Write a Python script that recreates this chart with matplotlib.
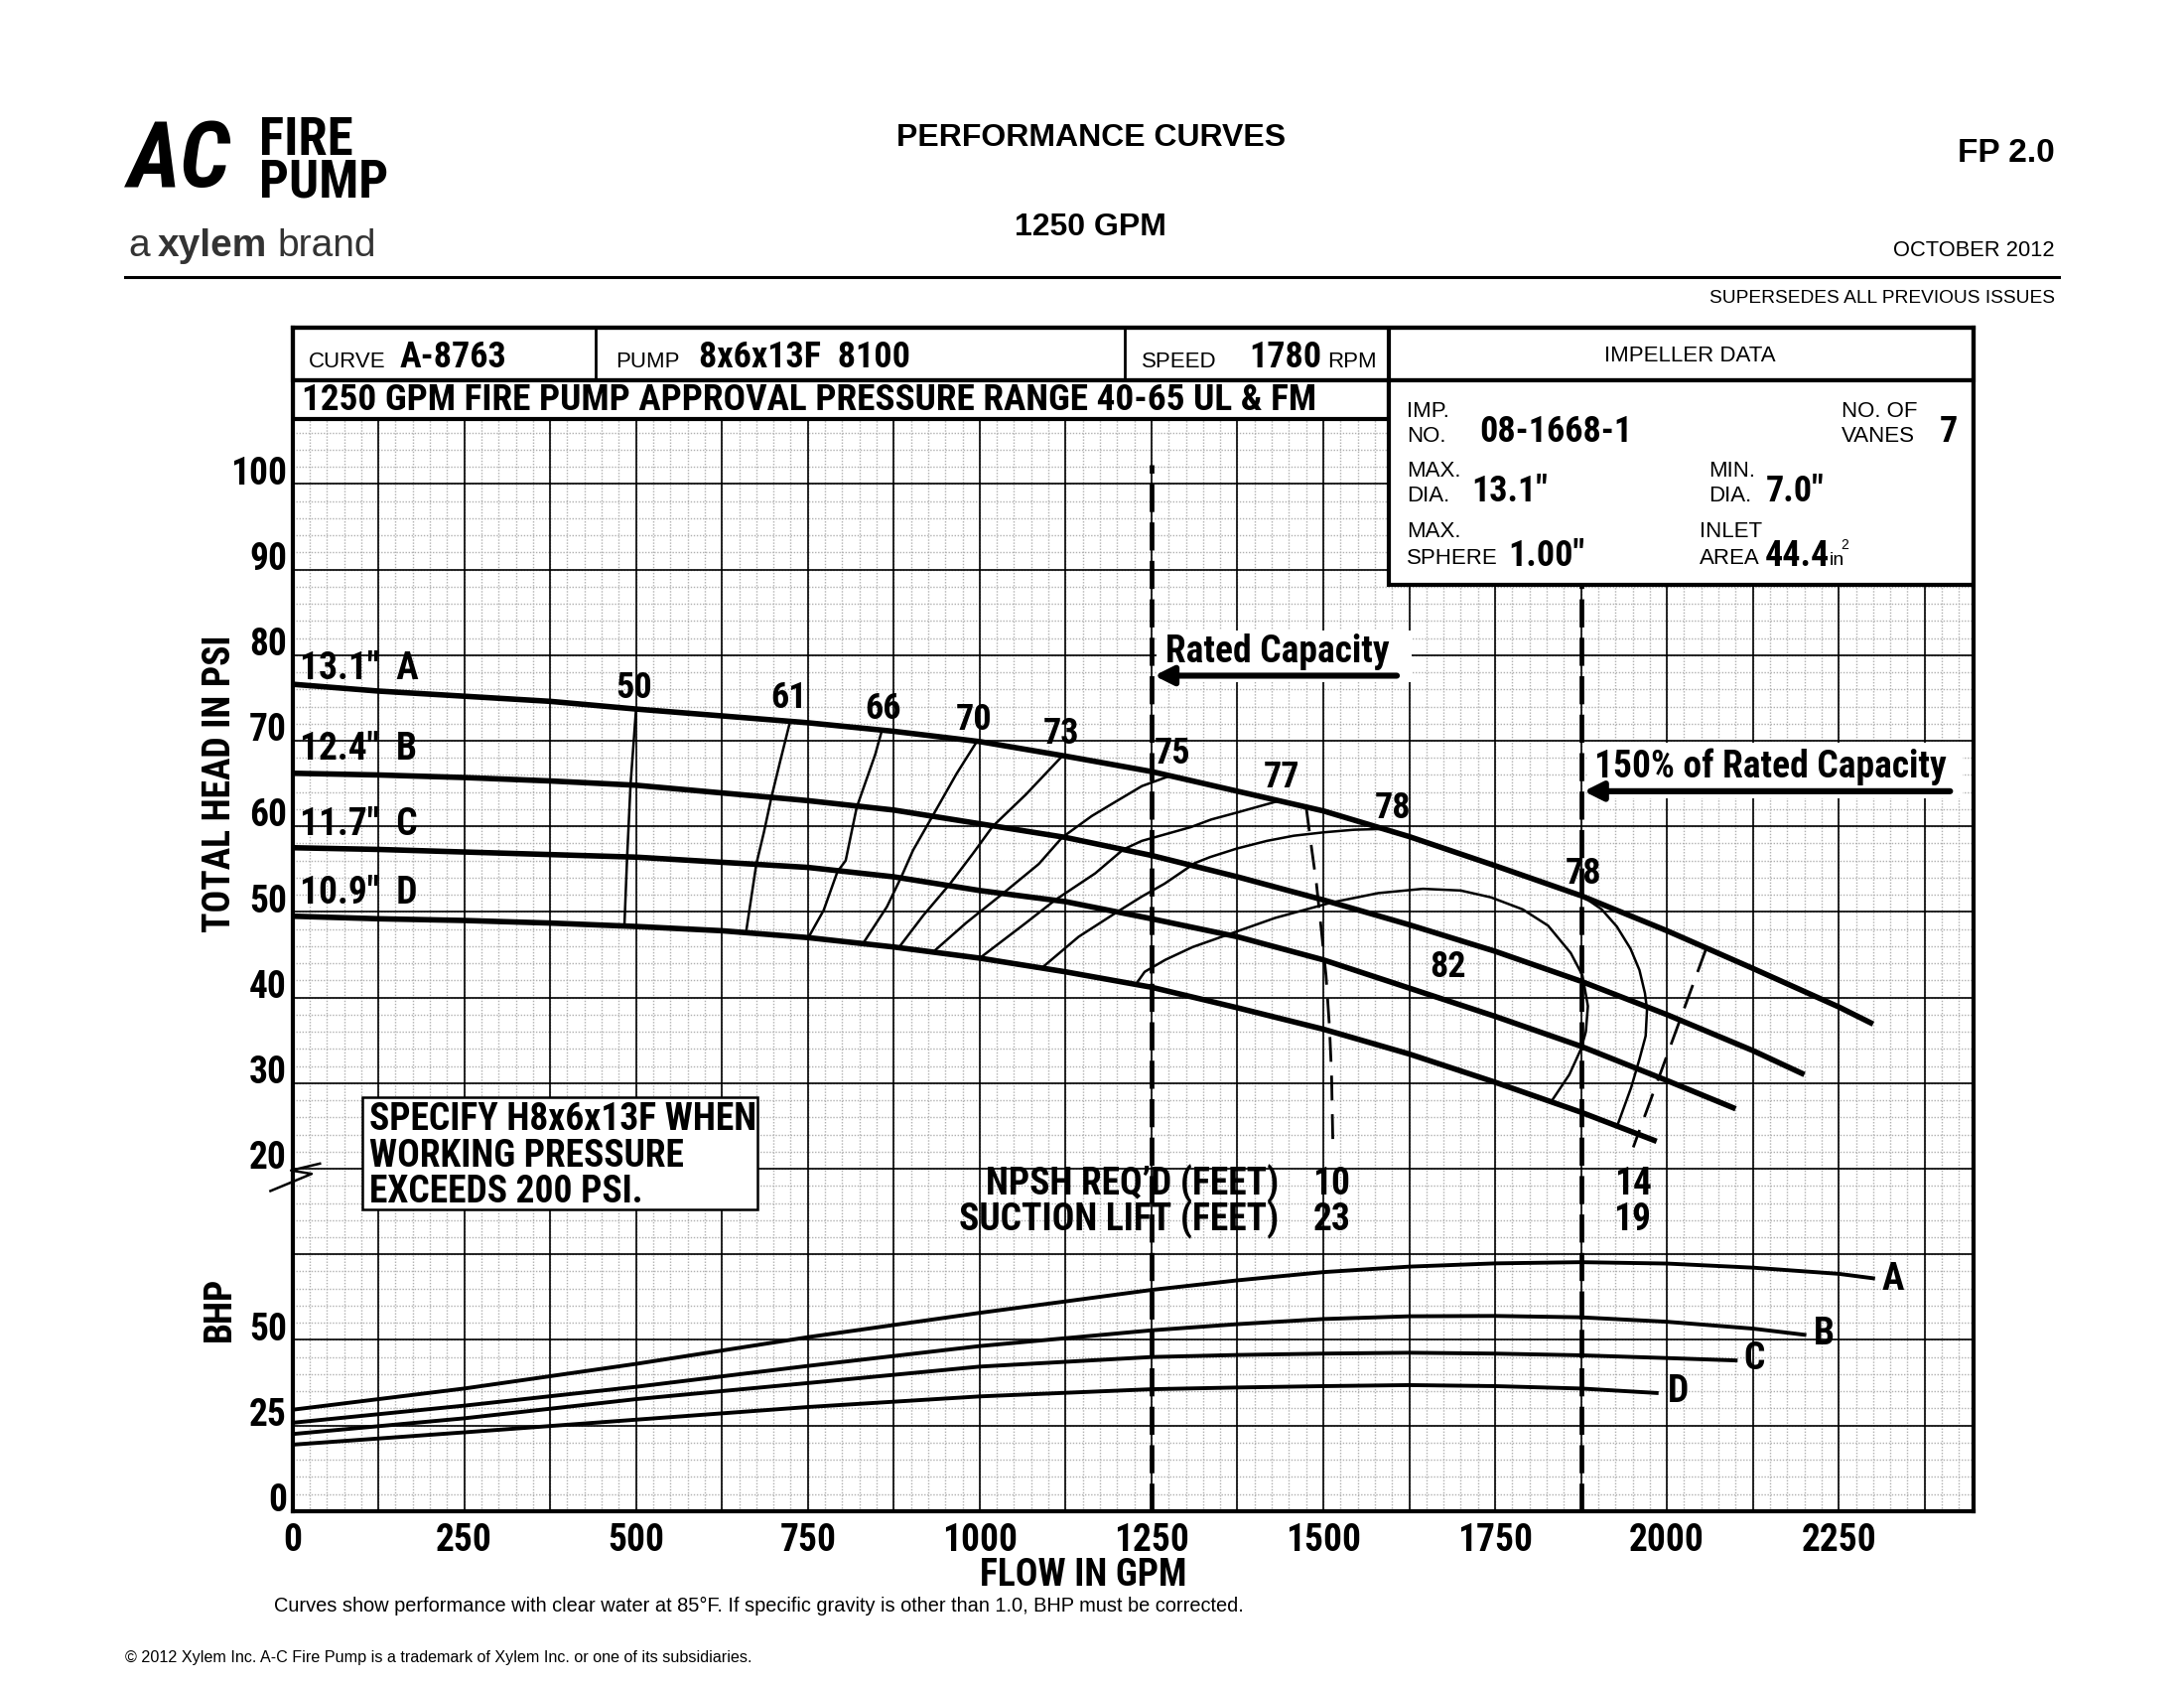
import numpy as np
import matplotlib
matplotlib.use("Agg")
import matplotlib.pyplot as plt
from matplotlib.patches import Rectangle

NARROW = ['Roboto Condensed', 'Archivo Narrow', 'PT Sans Narrow', 'Liberation Sans Narrow', 'Liberation Sans', 'DejaVu Sans']
PLAIN = ['Liberation Sans', 'DejaVu Sans']

# ---- head curves (psi) vs flow (gpm), one per impeller diameter
flow_a = [0, 125, 250, 375, 500, 625, 750, 875, 1000, 1125, 1250, 1375, 1500, 1625, 1750, 1875, 2000, 2125, 2250, 2300]
head_a = [76.6, 75.8, 75.2, 74.6, 73.7, 72.9, 72.1, 71.1, 69.9, 68.2, 66.4, 64.1, 61.8, 58.8, 55.4, 51.9, 47.8, 43.4, 38.9, 36.9]
flow_b = [0, 125, 250, 375, 500, 625, 750, 875, 1000, 1125, 1250, 1375, 1500, 1625, 1750, 1875, 2000, 2125, 2200]
head_b = [66.2, 66.0, 65.7, 65.3, 64.8, 63.9, 63.0, 61.9, 60.3, 58.7, 56.6, 54.1, 51.4, 48.5, 45.4, 41.9, 38.0, 33.8, 31.0]
flow_c = [0, 125, 250, 375, 500, 625, 750, 875, 1000, 1125, 1250, 1375, 1500, 1625, 1750, 1875, 2000, 2100]
head_c = [57.5, 57.3, 57.0, 56.7, 56.4, 55.8, 55.2, 54.1, 52.5, 51.2, 49.2, 47.1, 44.4, 41.1, 37.8, 34.3, 30.3, 27.0]
flow_d = [0, 125, 250, 375, 500, 625, 750, 875, 1000, 1125, 1250, 1375, 1500, 1625, 1750, 1875, 1985]
head_d = [49.5, 49.2, 49.0, 48.7, 48.3, 47.8, 47.0, 45.9, 44.6, 43.0, 41.2, 38.8, 36.3, 33.4, 30.1, 26.6, 23.2]
dia_labels = ['13.1"  A', '12.4"  B', '11.7"  C', '10.9"  D']
dia_label_head = [78.4, 69.0, 60.2, 52.2]

# ---- efficiency contours (flow, head)
eff_flow = {
    '50': [500, 496, 492, 487, 483],
    '61': [724, 710, 697, 686, 675, 660],
    '66': [857, 848, 821, 805, 793, 773, 750],
    '70': [995, 966, 930, 903, 886, 865, 831],
    '73': [1120, 1067, 1019, 990, 956, 918, 882],
    '75': [1277, 1236, 1192, 1163, 1120, 1086, 1033, 980, 932],
    '77': [1432, 1374, 1337, 1307, 1236, 1209, 1168, 1110, 1067, 1000],
    '78': [1589, 1545, 1501, 1457, 1418, 1374, 1335, 1313, 1269, 1236, 1202, 1144, 1091],
    '82': [1226, 1240, 1270, 1310, 1363, 1430, 1512, 1580, 1645, 1700, 1744, 1790, 1827,
           1860, 1877, 1885, 1882, 1875, 1858, 1833],
    '78r': [1876, 1905, 1927, 1947, 1960, 1968, 1971, 1969, 1960, 1948, 1929],
}
eff_head = {
    '50': [73.7, 69.3, 64.9, 56.4, 48.3],
    '61': [72.2, 67.7, 63.4, 59.3, 55.6, 47.6],
    '66': [71.0, 68.4, 62.2, 56.0, 54.7, 50.2, 46.9],
    '70': [69.8, 66.1, 61.0, 57.2, 54.1, 50.6, 46.4],
    '73': [68.2, 63.7, 60.0, 56.8, 53.2, 49.6, 45.8],
    '75': [65.9, 64.7, 62.6, 61.2, 58.7, 55.6, 52.1, 48.7, 45.3],
    '77': [62.9, 61.6, 60.8, 59.9, 58.3, 57.3, 54.5, 51.4, 48.7, 44.6],
    '78': [59.7, 59.6, 59.3, 58.9, 58.3, 57.4, 56.4, 55.7, 53.3, 51.8, 50.1, 47.1, 43.5],
    '82': [41.4, 43.0, 44.4, 45.9, 47.4, 49.3, 51.1, 52.2, 52.7, 52.5, 51.7, 50.3, 48.4,
           45.2, 42.6, 39.0, 36.0, 34.0, 31.0, 28.0],
    '78r': [51.9, 50.3, 48.3, 45.7, 43.2, 40.5, 38.6, 35.5, 32.8, 29.5, 25.3],
}
eff_label_text = ['50', '61', '66', '70', '73', '75', '77', '78', '78', '82']
eff_label_flow = [497, 722, 859, 991, 1119, 1281, 1439, 1601, 1879, 1682]
eff_label_head = [76.1, 75.0, 73.7, 72.4, 70.8, 68.5, 65.7, 62.1, 54.5, 43.6]

# ---- NPSH lines
npsh1_flow = [1475, 1482, 1490, 1497, 1504, 1509, 1512, 1514]
npsh1_head = [62.3, 58.0, 53.3, 48.0, 42.5, 36.5, 31.0, 22.5]
npsh2_flow = [2057, 1951]
npsh2_head = [45.7, 22.5]

# ---- brake horsepower curves
bhp_flow_a = [0, 250, 500, 750, 1000, 1250, 1375, 1500, 1625, 1750, 1875, 2000, 2125, 2250, 2300]
bhp_a = [29.6, 35.8, 43.0, 50.8, 57.9, 64.6, 67.4, 69.8, 71.4, 72.35, 72.7, 72.3, 71.1, 69.3, 68.0]
bhp_flow_b = [0, 250, 500, 750, 1000, 1250, 1375, 1500, 1625, 1750, 1875, 2000, 2125, 2200]
bhp_b = [25.8, 30.8, 36.3, 42.4, 48.2, 52.8, 54.6, 56.1, 56.9, 57.0, 56.6, 55.3, 53.3, 51.5]
bhp_flow_c = [0, 250, 500, 750, 1000, 1250, 1375, 1500, 1625, 1750, 1875, 2000, 2100]
bhp_c = [22.5, 27.1, 32.7, 37.4, 42.2, 45.0, 45.6, 46.0, 46.25, 46.0, 45.5, 44.7, 44.0]
bhp_flow_d = [0, 250, 500, 750, 1000, 1250, 1375, 1500, 1625, 1750, 1875, 1985]
bhp_d = [19.4, 23.0, 26.7, 30.4, 33.5, 35.6, 36.1, 36.5, 36.8, 36.5, 35.8, 34.5]
bhp_letters = ['A', 'B', 'C', 'D']
bhp_letter_flow = [2329, 2228, 2127, 2016]
bhp_letter_val = [67.7, 51.8, 44.5, 34.8]

flow_ticks = [0, 250, 500, 750, 1000, 1250, 1500, 1750, 2000, 2250]
head_ticks = [100, 90, 80, 70, 60, 50, 40, 30, 20]
bhp_ticks = [50, 25, 0]

RATED = 1250
RATED_150 = 1875
X_MAX = 2446
U_MIN, U_MAX = -20, 118.2
GRID_TOP = 107.6


def bhp_u(v):
    # BHP band sits under the head band: 25 BHP per 10 psi grid step, 0 BHP at -20
    return np.asarray(v, dtype=float) * 0.4 - 20


def fpos(x, y):
    # page position from reference pixel layout (1568 x 1212 frame)
    return x / 1568, 1 - y / 1212


fig = plt.figure(figsize=(11, 8.5), dpi=200)
ax = fig.add_axes([0.1339, 0.1048, 0.7697, 0.7008])
ax.set_xlim(0, X_MAX)
ax.set_ylim(U_MIN, U_MAX)

# grid
ax.vlines(np.arange(25, X_MAX, 25), U_MIN, GRID_TOP, colors='#b0b0b0', lw=0.5,
          linestyles=(0, (1, 1.2)), zorder=1)
ax.hlines(np.arange(-18, GRID_TOP, 2), 0, X_MAX, colors='#b0b0b0', lw=0.5,
          linestyles=(0, (1, 1.2)), zorder=1)
ax.vlines(np.arange(125, X_MAX, 125), U_MIN, GRID_TOP, colors='black', lw=0.6, zorder=2)
ax.hlines(np.arange(-10, GRID_TOP, 10), 0, X_MAX, colors='black', lw=0.6, zorder=2)

for sp in ax.spines.values():
    sp.set_linewidth(1.5)
    sp.set_zorder(8)
ax.set_xticks(flow_ticks)
ax.set_xticklabels([str(t) for t in flow_ticks], family=NARROW, fontweight='bold', fontsize=13.5)
ax.tick_params(axis='x', length=0, pad=4)
ax.set_yticks([])

for t in head_ticks:
    ax.text(-8, t + 1.2, str(t), ha='right', va='center', family=NARROW, fontweight='bold', fontsize=13.5)
for t in bhp_ticks:
    ax.text(-8, bhp_u(t) + 1.2, str(t), ha='right', va='center', family=NARROW, fontweight='bold', fontsize=13.5)

# break mark on the left edge
ax.plot([-32, 28, -2, 40], [17.4, 19.4, 19.8, 20.6], color='black', lw=0.9, clip_on=False, zorder=9)

# rated and 150% rated capacity lines
dash = (0, (6, 2.2))
ax.plot([RATED, RATED], [U_MIN, 102.2], color='black', lw=1.7, ls=dash, zorder=4)
ax.plot([RATED_150, RATED_150], [U_MIN, 88.2], color='black', lw=1.7, ls=dash, zorder=4)

ax.add_patch(Rectangle((1258, 76.9), 370, 6.0, fc='white', ec='none', zorder=3))
ax.text(1271, 80.4, 'Rated Capacity', ha='left', va='center', family=NARROW, fontweight='bold',
        fontsize=13.5, zorder=6)
ax.annotate('', xy=(RATED + 4, 77.6), xytext=(1607, 77.6),
            arrowprops=dict(arrowstyle='-|>', lw=2.2, color='black', mutation_scale=14,
                            shrinkA=0, shrinkB=0), zorder=6)
ax.add_patch(Rectangle((1885, 63.3), 545, 6.5, fc='white', ec='none', zorder=3))
ax.text(1895, 66.9, '150% of Rated Capacity', ha='left', va='center', family=NARROW,
        fontweight='bold', fontsize=13.5, zorder=6)
ax.annotate('', xy=(RATED_150 + 4, 64.1), xytext=(2412, 64.1),
            arrowprops=dict(arrowstyle='-|>', lw=2.2, color='black', mutation_scale=14,
                            shrinkA=0, shrinkB=0), zorder=6)

# head curves
for fl, hd in [(flow_a, head_a), (flow_b, head_b), (flow_c, head_c), (flow_d, head_d)]:
    ax.plot(fl, hd, color='black', lw=2.0, solid_capstyle='butt', solid_joinstyle='round', zorder=5)
for lab, h in zip(dia_labels, dia_label_head):
    ax.text(10, h, lab, ha='left', va='center', family=NARROW, fontweight='bold', fontsize=13.5, zorder=6)

# efficiency contours
for key in eff_flow:
    ax.plot(eff_flow[key], eff_head[key], color='black', lw=0.9, solid_joinstyle='round', zorder=5)
for lab, fl, h in zip(eff_label_text, eff_label_flow, eff_label_head):
    ax.text(fl, h, lab, ha='center', va='center', family=NARROW, fontweight='bold', fontsize=13, zorder=6)

# npsh
ax.plot(npsh1_flow, npsh1_head, color='black', lw=1.0, ls=(0, (9, 5)), zorder=5)
ax.plot(npsh2_flow, npsh2_head, color='black', lw=1.0, ls=(0, (9, 5)), zorder=5)
ax.text(1435, 18.2, 'NPSH REQ\u2019D (FEET)', ha='right', va='center', family=NARROW,
        fontweight='bold', fontsize=13.5, zorder=6)
ax.text(1435, 14.0, 'SUCTION LIFT (FEET)', ha='right', va='center', family=NARROW,
        fontweight='bold', fontsize=13.5, zorder=6)
for fl, top, bot in [(1512, '10', '23'), (1950, '14', '19')]:
    ax.text(fl, 18.2, top, ha='center', va='center', family=NARROW, fontweight='bold', fontsize=13.5, zorder=6)
    ax.text(fl, 14.0, bot, ha='center', va='center', family=NARROW, fontweight='bold', fontsize=13.5, zorder=6)

# bhp curves
for fl, bv in [(bhp_flow_a, bhp_a), (bhp_flow_b, bhp_b), (bhp_flow_c, bhp_c), (bhp_flow_d, bhp_d)]:
    ax.plot(fl, bhp_u(bv), color='black', lw=1.4, solid_joinstyle='round', zorder=5)
for lab, fl, bv in zip(bhp_letters, bhp_letter_flow, bhp_letter_val):
    ax.text(fl, bhp_u(bv), lab, ha='center', va='center', family=NARROW, fontweight='bold', fontsize=13.5, zorder=6)

# specify box
ax.add_patch(Rectangle((101, 15.3), 575, 13.0, fc='white', ec='black', lw=0.9, zorder=6))
for h, line in zip([25.7, 21.5, 17.3], ['SPECIFY H8x6x13F WHEN', 'WORKING PRESSURE', 'EXCEEDS 200 PSI.']):
    ax.text(112, h, line, ha='left', va='center', family=NARROW, fontweight='bold', fontsize=13.5, zorder=7)

# header table inside the frame
ax.add_patch(Rectangle((0, 112.1), X_MAX, U_MAX - 112.1, fc='white', ec='black', lw=1.5, zorder=7, clip_on=False))
ax.add_patch(Rectangle((0, GRID_TOP), 1595.5, 112.1 - GRID_TOP, fc='white', ec='black', lw=1.5, zorder=7))
ax.add_patch(Rectangle((1595.5, 88.2), X_MAX - 1595.5, 112.1 - 88.2, fc='white', ec='black', lw=1.5, zorder=7))
ax.vlines([441.8, 1210.9], 112.1, U_MAX, colors='black', lw=1.0, zorder=8)
ax.vlines([1595.5], 112.1, U_MAX, colors='black', lw=1.5, zorder=8)

small = dict(family=PLAIN, fontsize=8, zorder=9, va='center', ha='left')
big = dict(family=NARROW, fontweight='bold', fontsize=13, zorder=9, va='center', ha='left')
ax.text(24, 114.3, 'CURVE', **small)
ax.text(156, 114.8, 'A-8763', **big)
ax.text(470, 114.3, 'PUMP', **small)
ax.text(592, 114.8, '8x6x13F  8100', **big)
ax.text(1236, 114.3, 'SPEED', **small)
ax.text(1392, 114.8, '1780', **big)
ax.text(1506, 114.3, 'RPM', **small)
ax.text(2033, 114.9, 'IMPELLER DATA', family=PLAIN, fontsize=8, zorder=9, va='center', ha='center')
ax.text(14, 109.8, '1250 GPM FIRE PUMP APPROVAL PRESSURE RANGE 40-65 UL & FM', family=NARROW,
        fontweight='bold', fontsize=13.4, zorder=9, va='center', ha='left')

ax.text(1621, 108.5, 'IMP.', **small)
ax.text(1621, 105.6, 'NO.', **small)
ax.text(1727, 106.1, '08-1668-1', **big)
ax.text(2254, 108.5, 'NO. OF', **small)
ax.text(2254, 105.6, 'VANES', **small)
ax.text(2396, 106.1, '7', **big)
ax.text(1621, 101.5, 'MAX.', **small)
ax.text(1621, 98.6, 'DIA.', **small)
ax.text(1715, 99.1, '13.1"', **big)
ax.text(2061, 101.5, 'MIN.', **small)
ax.text(2061, 98.6, 'DIA.', **small)
ax.text(2144, 99.1, '7.0"', **big)
ax.text(1621, 94.4, 'MAX.', **small)
ax.text(1621, 91.3, 'SPHERE', **small)
ax.text(1769, 91.6, '1.00"', **big)
ax.text(2047, 94.4, 'INLET', **small)
ax.text(2047, 91.3, 'AREA', **small)
ax.text(2142, 91.6, '44.4', **big)
ax.text(2236, 91.1, 'in', family=PLAIN, fontsize=7, zorder=9, va='center', ha='left')
ax.text(2253, 92.8, '2', family=PLAIN, fontsize=5, zorder=9, va='center', ha='left')

# axis titles
fig.text(*fpos(158, 563), 'TOTAL HEAD IN PSI', rotation=90, ha='center', va='center',
         family=NARROW, fontweight='bold', fontsize=13.5)
fig.text(*fpos(158, 940), 'BHP', rotation=90, ha='center', va='center',
         family=NARROW, fontweight='bold', fontsize=13.5)
fig.text(*fpos(778, 1131), 'FLOW IN GPM', ha='center', va='center',
         family=NARROW, fontweight='bold', fontsize=13.5)

# page header
fig.text(*fpos(783, 99), 'PERFORMANCE CURVES', ha='center', va='center', family=PLAIN,
         fontweight='bold', fontsize=11.5)
fig.text(*fpos(783, 163), '1250 GPM', ha='center', va='center', family=PLAIN,
         fontweight='bold', fontsize=11.5)
fig.text(*fpos(1475, 110), 'FP 2.0', ha='right', va='center', family=PLAIN,
         fontweight='bold', fontsize=12)
fig.text(*fpos(1475, 180), 'OCTOBER 2012', ha='right', va='center', family=PLAIN, fontsize=7.9)
fig.text(*fpos(1475, 214), 'SUPERSEDES ALL PREVIOUS ISSUES', ha='right', va='center',
         family=PLAIN, fontsize=6.9)
x0, y0 = fpos(90, 199)
x1, _ = fpos(1478, 199)
fig.add_artist(plt.Line2D([x0, x1], [y0, y0], color='black', lw=1.1))

# logo
fig.text(*fpos(92, 116), 'AC', ha='left', va='center', family=NARROW, fontweight='bold',
         style='italic', fontsize=33)
fig.text(*fpos(186, 116), 'FIRE\nPUMP', ha='left', va='center', family=NARROW, fontweight='bold',
         fontsize=19, linespacing=0.8)
fig.text(*fpos(92, 177), 'a', ha='left', va='center', family=PLAIN, fontsize=14, color='#333333')
fig.text(*fpos(113, 177), 'xylem', ha='left', va='center', family=PLAIN, fontweight='bold',
         fontsize=14, color='#333333')
fig.text(*fpos(199, 177), 'brand', ha='left', va='center', family=PLAIN, fontsize=14, color='#333333')

# footer
fig.text(*fpos(197, 1153), 'Curves show performance with clear water at 85\u00b0F. If specific gravity is '
         'other than 1.0, BHP must be corrected.', ha='left', va='center', family=PLAIN, fontsize=7.2)
fig.text(*fpos(90, 1190), '\u00a9 2012 Xylem Inc. A-C Fire Pump is a trademark of Xylem Inc. or one of '
         'its subsidiaries.', ha='left', va='center', family=PLAIN, fontsize=5.8)

fig.savefig('out.png', dpi=200)
